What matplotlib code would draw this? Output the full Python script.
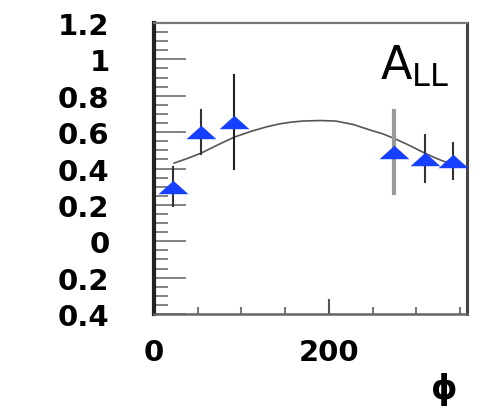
import numpy as np
import matplotlib.pyplot as plt
from matplotlib.ticker import FixedLocator, MultipleLocator

# data
phi = [22, 54, 91, 275, 310, 342]
a_ll = [0.30, 0.60, 0.655, 0.49, 0.454, 0.44]
a_err = [0.108, 0.12, 0.26, 0.227, 0.13, 0.10]
bar_colors = ['#333333', '#333333', '#222222', '#999999', '#333333', '#333333']
bar_widths = [1.5, 1.5, 1.5, 3.0, 1.5, 1.5]

# fitted curve
curve_phi = [23, 38, 54, 73, 92, 112, 128, 143, 157, 170, 190, 208, 228, 247, 262, 274, 290, 305, 318, 331, 341]
curve_val = [0.43, 0.455, 0.485, 0.53, 0.573, 0.606, 0.628, 0.645, 0.655, 0.661, 0.664, 0.661, 0.642, 0.612, 0.59, 0.567, 0.532, 0.496, 0.466, 0.44, 0.43]

y_ticks = [1.2, 1.0, 0.8, 0.6, 0.4, 0.2, 0.0, -0.2, -0.4]
y_labels = ['1.2', '1', '0.8', '0.6', '0.4', '0.2', '0', '0.2', '0.4']
x_ticks = [0, 200]
x_labels = ['0', '200']

fig = plt.figure(figsize=(4.91, 4.14), dpi=100)
ax = fig.add_axes([0.3136, 0.239, 0.6375, 0.703])

ax.plot(curve_phi, curve_val, color='#555555', lw=1.2, zorder=2)

for x, y, e, c, w in zip(phi, a_ll, a_err, bar_colors, bar_widths):
    ax.plot([x, x], [y - e, y + e], color=c, lw=w, zorder=3)

tri = [(-1, -0.45), (1, -0.45), (0, 0.45), (-1, -0.45)]
ax.plot(phi, a_ll, linestyle='none', marker=tri, markersize=21.5,
        color='#1540ff', markeredgewidth=0, zorder=4)

ax.set_xlim(0, 358)
ax.set_ylim(-0.4, 1.2)

ax.yaxis.set_major_locator(FixedLocator(y_ticks))
ax.set_yticklabels(y_labels)
ax.yaxis.set_minor_locator(MultipleLocator(0.05))
ax.xaxis.set_major_locator(FixedLocator(x_ticks))
ax.set_xticklabels(x_labels)
ax.xaxis.set_minor_locator(MultipleLocator(50))

ax.tick_params(axis='y', which='major', direction='in', length=23, width=1.3,
               color='#777777', pad=32, labelsize=21)
ax.tick_params(axis='y', which='minor', direction='in', length=10, width=1.3,
               color='#777777')
ax.tick_params(axis='x', which='major', direction='in', length=11, width=1.5,
               color='#555555', pad=17, labelsize=21)
ax.tick_params(axis='x', which='minor', direction='in', length=5, width=1.5,
               color='#777777')
for lab in ax.get_xticklabels() + ax.get_yticklabels():
    lab.set_fontweight('heavy')

ax.spines['left'].set_color('#222222')
ax.spines['left'].set_linewidth(3)
ax.spines['right'].set_color('#444444')
ax.spines['right'].set_linewidth(2.2)
ax.spines['top'].set_color('#777777')
ax.spines['top'].set_linewidth(1.6)
ax.spines['bottom'].set_color('#666666')
ax.spines['bottom'].set_linewidth(1.8)

ax.text(0.945, 0.93, r'$\mathregular{A_{LL}}$', transform=ax.transAxes,
        ha='right', va='top', fontsize=33)

fig.text(444 / 491, 1 - 390 / 414, '\u03d5', ha='center', va='center',
         fontsize=24, fontweight='bold')

plt.savefig('out.png', dpi=100)
